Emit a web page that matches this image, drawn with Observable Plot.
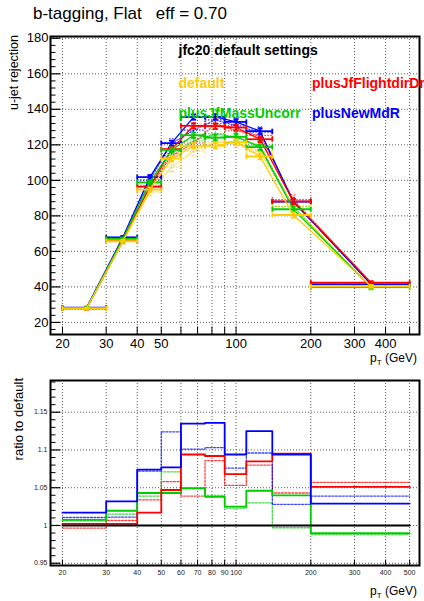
<!DOCTYPE html>
<html><head><meta charset="utf-8">
<script src="https://cdn.jsdelivr.net/npm/d3@7"></script>
<script src="https://cdn.jsdelivr.net/npm/@observablehq/plot@0.6"></script>
<style>
body{margin:0;background:#fff;overflow:hidden;}
#wrap{position:relative;width:424px;height:601px;overflow:hidden;background:#fff;font-family:"Liberation Sans",Arial,sans-serif;}
#wrap svg{position:absolute;left:0;}
</style></head><body><div id="wrap"></div>
<script>
// ---- data ----
const edges = [20,30,40,50,60,75,90,110,140,200,500];
const centers = [25,35,45,55,67.5,82.5,100,125,170,350];
const seriesNames = ["default","plusJfFlightdirDr","plusJfMassUncorr","plusNewMdR"];
const seriesColors = ["#ffcc00","#ff0000","#00cc00","#0000ff"];

// u-jet rejection of the default (solid and dotted)
const defaultSolid  = [27.9,65.8,94.8,112.3,119.5,119.5,121.5,113.5,80.5,40.3];
const defaultDotted = [27.6,65.4,93.5,107.5,116.5,121.5,121.5,116.0,85.5,40.0];

// ratio to default (solid)
const ratioDefault    = [1,1,1,1,1,1,1,1,1,1];
const ratioFlightdir  = [1.002,1.002,1.017,1.047,1.094,1.092,1.068,1.085,1.095,1.051];
const ratioMassUncorr = [1.0075,1.0195,1.043,1.043,1.0495,1.038,1.025,1.046,1.040,0.990];
const ratioNewMdR     = [1.017,1.032,1.074,1.077,1.135,1.136,1.094,1.125,1.094,1.029];
// ratio to default (dotted)
const ratioFlightdirDot  = [0.9965,1.0066,1.034,1.058,1.039,1.086,1.053,1.080,1.043,1.057];
const ratioMassUncorrDot = [1.006,1.015,1.039,1.071,1.0486,1.040,1.023,1.030,0.997,0.988];
const ratioNewMdRDot     = [1.0106,1.011,1.072,1.124,1.101,1.103,1.076,1.096,1.028,1.039];

// statistical uncertainties
const errSolid  = [0.5,0.8,1.2,1.4,1.5,1.6,1.6,1.6,1.5,0.8];
const errDotted = [0.8,1.4,2.2,2.6,2.8,3.0,3.0,3.0,2.6,1.2];

// ticks
const xTickLabelsTop = [20,30,40,50,100,200,300,400];
const xTickLabelsBottom = [20,30,40,50,60,70,80,90,100,200,300,400,500];
const xGrid = [20,30,40,50,60,70,80,90,100,200,300,400,500];
const yTicksTop = [20,40,60,80,100,120,140,160,180];
const yTicksRatio = [0.95,1,1.05,1.1,1.15];

// ---- helpers ----
const xDomain = [17.9, 548];
const yDomainTop = [13.2, 181];
const yDomainRatio = [0.947, 1.192];
const font = '"Liberation Sans", Arial, sans-serif';

const symV = L => ({draw(c){c.moveTo(0,-L);c.lineTo(0,L);}});
const symH = L => ({draw(c){c.moveTo(-L,0);c.lineTo(L,0);}});
const symUp = L => ({draw(c){c.moveTo(0,0);c.lineTo(0,-L);}});
const symRight = L => ({draw(c){c.moveTo(0,0);c.lineTo(L,0);}});

function range(a,b,s){const o=[];for(let v=a;v<=b+1e-9;v+=s)o.push(+v.toFixed(4));return o;}
const xMinorTicks = [20,30,40,50,60,70,80,90,100,200,300,400,500];

function bins(vals, errs){
  return vals.map((v,i)=>({lo:edges[i],hi:edges[i+1],c:centers[i],v,e:errs[i]}));
}
function seriesMarks(vals, errs, color, dotted){
  const d = bins(vals, errs);
  const st = dotted ? {stroke:color, strokeWidth:1.2, strokeDasharray:"1.5,1.5", strokeOpacity:0.8}
                    : {stroke:color, strokeWidth:1.8};
  return [
    Plot.line(d,{x:"c",y:"v",...st, strokeWidth: dotted?1.1:1.3}),
    Plot.link(d,{x1:"lo",x2:"hi",y1:"v",y2:"v",...st}),
    Plot.link(d,{x1:"c",x2:"c",y1:e=>e.v-e.e,y2:e=>e.v+e.e,...st}),
    Plot.dot(d,{x:"lo",y:"v",symbol:symV(2.5),r:1,fill:"none",...st}),
    Plot.dot(d,{x:"hi",y:"v",symbol:symV(2.5),r:1,fill:"none",...st}),
    Plot.dot(d,{x:"c",y:e=>e.v-e.e,symbol:symH(2.5),r:1,fill:"none",...st}),
    Plot.dot(d,{x:"c",y:e=>e.v+e.e,symbol:symH(2.5),r:1,fill:"none",...st})
  ];
}
function mult(a,b){return a.map((v,i)=>v*b[i]);}
function steps(r){return edges.map((x,i)=>({x,y:r[Math.min(i,r.length-1)]}));}

const gridStyle = {stroke:"#333", strokeWidth:0.8, strokeDasharray:"1,2"};

// ---- top panel ----
const topSolid = [defaultSolid, mult(defaultSolid,ratioFlightdir), mult(defaultSolid,ratioMassUncorr), mult(defaultSolid,ratioNewMdR)];
const topDotted = [defaultDotted, mult(defaultDotted,ratioFlightdirDot), mult(defaultDotted,ratioMassUncorrDot), mult(defaultDotted,ratioNewMdRDot)];
const drawOrder = [3,1,2,0];

const topMarks = [
  Plot.ruleX(xGrid, gridStyle),
  Plot.ruleY(yTicksTop, gridStyle),
  ...drawOrder.flatMap(i=>seriesMarks(topDotted[i], errDotted, seriesColors[i], true)),
  ...drawOrder.flatMap(i=>seriesMarks(topSolid[i], errSolid, seriesColors[i], false)),
  Plot.dot(range(16,180,4).filter(v=>v%20!==0),{x:()=>xDomain[0],y:d=>d,symbol:symRight(5),r:1,stroke:"black",fill:"none",strokeWidth:1}),
  Plot.dot(yTicksTop,{x:()=>xDomain[0],y:d=>d,symbol:symRight(10),r:1,stroke:"black",fill:"none",strokeWidth:1.2}),
  Plot.dot(xMinorTicks,{x:d=>d,y:()=>yDomainTop[0],symbol:symUp(8),r:1,stroke:"black",fill:"none",strokeWidth:1}),
  Plot.frame({stroke:"black",strokeWidth:2})
];

const topPlot = Plot.plot({
  width:424, height:370,
  marginTop:36, marginBottom:36, marginLeft:50, marginRight:5,
  style:{fontFamily:font, fontSize:"13px", color:"black", background:"transparent"},
  x:{type:"log", domain:xDomain, ticks:xTickLabelsTop, tickFormat:d=>String(d), tickSize:0, tickPadding:4, label:null},
  y:{domain:yDomainTop, ticks:yTicksTop, tickFormat:d=>String(d), tickSize:0, tickPadding:2, label:null},
  marks: topMarks
});
topPlot.style.top = "0px";

// ---- ratio panel ----
const ratioSolid = [ratioDefault, ratioFlightdir, ratioMassUncorr, ratioNewMdR];
const ratioDotted = [null, ratioFlightdirDot, ratioMassUncorrDot, ratioNewMdRDot];
const ratioMarks = [
  Plot.ruleX(xGrid, gridStyle),
  Plot.ruleY(yTicksRatio, gridStyle),
  ...[1,2,3].map(i=>Plot.line(steps(ratioDotted[i]),{x:"x",y:"y",curve:"step-after",stroke:seriesColors[i],strokeWidth:1.3,strokeDasharray:"2,1.5",strokeOpacity:0.75})),
  ...[2,1,3].map(i=>Plot.line(steps(ratioSolid[i]),{x:"x",y:"y",curve:"step-after",stroke:seriesColors[i],strokeWidth:1.8})),
  Plot.line(steps(ratioSolid[0]),{x:"x",y:"y",curve:"step-after",stroke:"black",strokeWidth:1.8}),
  Plot.dot(range(0.95,1.19,0.01).filter(v=>Math.abs((v*20)-Math.round(v*20))>1e-6),{x:()=>xDomain[0],y:d=>d,symbol:symRight(5),r:1,stroke:"black",fill:"none",strokeWidth:1}),
  Plot.dot(yTicksRatio,{x:()=>xDomain[0],y:d=>d,symbol:symRight(10),r:1,stroke:"black",fill:"none",strokeWidth:1.2}),
  Plot.dot(xMinorTicks,{x:d=>d,y:()=>yDomainRatio[0],symbol:symUp(6),r:1,stroke:"black",fill:"none",strokeWidth:1}),
  Plot.text(xTickLabelsBottom,{x:d=>d,y:()=>yDomainRatio[0],text:d=>String(d),dy:7,fontSize:7,fill:"#222"}),
  Plot.frame({stroke:"black",strokeWidth:2})
];
const bottomPlot = Plot.plot({
  width:424, height:231,
  marginTop:10, marginBottom:36, marginLeft:50, marginRight:5,
  style:{fontFamily:font, fontSize:"7px", color:"#222", background:"transparent"},
  x:{type:"log", domain:xDomain, axis:null},
  y:{domain:yDomainRatio, ticks:yTicksRatio, tickFormat:d=>String(d), tickSize:0, tickPadding:3, label:null},
  marks: ratioMarks
});
bottomPlot.style.top = "370px";

const wrap = document.getElementById("wrap");
wrap.appendChild(topPlot);
wrap.appendChild(bottomPlot);

// ---- text overlay ----
const NS = "http://www.w3.org/2000/svg";
const ov = document.createElementNS(NS,"svg");
ov.setAttribute("width",424); ov.setAttribute("height",601);
ov.style.top="0px"; ov.style.pointerEvents="none";
ov.style.fontFamily = font;
function txt(s, x, y, opt={}){
  const t = document.createElementNS(NS,"text");
  t.setAttribute("x",x); t.setAttribute("y",y);
  t.setAttribute("font-size", opt.size||13);
  if(opt.weight) t.setAttribute("font-weight",opt.weight);
  t.setAttribute("fill", opt.color||"black");
  if(opt.anchor) t.setAttribute("text-anchor",opt.anchor);
  if(opt.rotate) t.setAttribute("transform",`rotate(-90 ${x} ${y})`);
  t.style.whiteSpace="pre";
  t.textContent = s;
  ov.appendChild(t);
  return t;
}
function ptLabel(x,y){
  const t = txt("",x,y,{size:12});
  const p = document.createElementNS(NS,"tspan"); p.textContent="p"; t.appendChild(p);
  const s = document.createElementNS(NS,"tspan"); s.textContent="T"; s.setAttribute("font-size",8); s.setAttribute("dy",3); t.appendChild(s);
  const r = document.createElementNS(NS,"tspan"); r.textContent=" (GeV)"; r.setAttribute("dy",-3); t.appendChild(r);
}
txt("b-tagging, Flat   eff = 0.70", 33, 18.5, {size:17});
txt("jfc20 default settings", 178.5, 54.5, {size:14, weight:"bold"});
txt(seriesNames[0], 178.5, 88, {size:14, weight:"bold", color:seriesColors[0]});
txt(seriesNames[1], 312, 88, {size:14, weight:"bold", color:seriesColors[1]});
txt(seriesNames[2], 178.5, 117.5, {size:14, weight:"bold", color:seriesColors[2]});
txt(seriesNames[3], 312, 117.5, {size:14, weight:"bold", color:seriesColors[3]});
txt("u-jet rejection", 17.5, 35, {size:12.5, anchor:"end", rotate:true});
txt("ratio to default", 23, 378, {size:13, anchor:"end", rotate:true});
ptLabel(370, 362);
ptLabel(370, 595);
wrap.appendChild(ov);
</script>
</body></html>
